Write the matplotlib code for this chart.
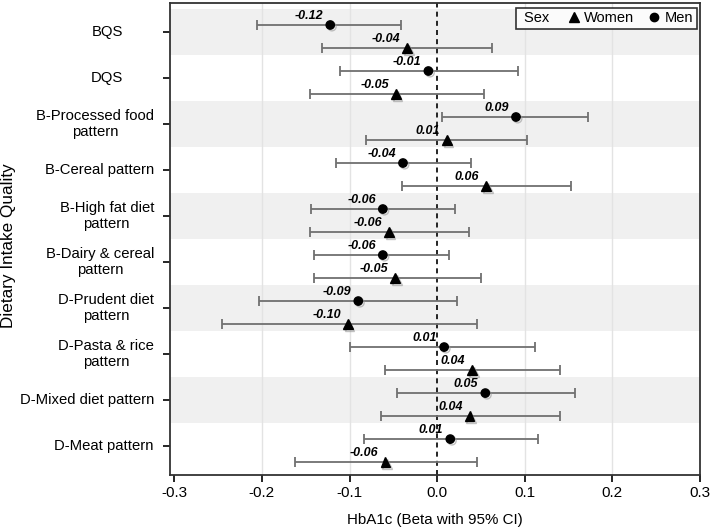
import numpy as np
import matplotlib.pyplot as plt
from matplotlib.lines import Line2D
import matplotlib.patheffects as pe
from matplotlib.transforms import blended_transform_factory

plt.rcParams['font.family'] = ['Liberation Sans', 'DejaVu Sans']

# categories (top to bottom)
categories = ['BQS', 'DQS', 'B-Processed food\npattern', 'B-Cereal pattern',
              'B-High fat diet\npattern', 'B-Dairy & cereal\npattern',
              'D-Prudent diet\npattern', 'D-Pasta & rice\npattern',
              'D-Mixed diet pattern', 'D-Meat pattern']

# men estimates and 95% CI
men_beta = [-0.122, -0.010, 0.090, -0.039, -0.062, -0.062, -0.090, 0.008, 0.055, 0.015]
men_lo = [-0.206, -0.111, 0.006, -0.115, -0.144, -0.141, -0.203, -0.100, -0.046, -0.084]
men_hi = [-0.041, 0.092, 0.172, 0.039, 0.020, 0.014, 0.023, 0.112, 0.157, 0.115]
men_lab = ['-0.12', '-0.01', '0.09', '-0.04', '-0.06', '-0.06', '-0.09', '0.01', '0.05', '0.01']

# women estimates and 95% CI
women_beta = [-0.034, -0.047, 0.011, 0.056, -0.055, -0.048, -0.102, 0.040, 0.037, -0.059]
women_lo = [-0.131, -0.145, -0.081, -0.040, -0.145, -0.141, -0.246, -0.060, -0.064, -0.162]
women_hi = [0.063, 0.053, 0.103, 0.153, 0.036, 0.050, 0.046, 0.140, 0.140, 0.046]
women_lab = ['-0.04', '-0.05', '0.01', '0.06', '-0.06', '-0.05', '-0.10', '0.04', '0.04', '-0.06']

xticks = [-0.3, -0.2, -0.1, 0.0, 0.1, 0.2, 0.3]

fig = plt.figure(figsize=(7.11, 5.31), dpi=100)
ax_left, ax_w = 0.239, 0.7455
ax = fig.add_axes([ax_left, 0.1055, ax_w, 0.889])

pos = np.arange(len(categories))
y_men = pos - 0.15
y_women = pos + 0.35

# alternating bands
for i in pos:
    if i % 2 == 0:
        ax.axhspan(i - 0.5, i + 0.5, color='#f0f0f0', zorder=0, lw=0)

for x in [-0.2, -0.1, 0.1, 0.2]:
    ax.axvline(x, color='#e3e3e3', lw=1, zorder=1)
ax.axvline(0, color='black', lw=1.2, ls=(0, (3, 2.5)), zorder=2)

shadow = [pe.SimpleLineShadow(offset=(1.2, -1.2), shadow_color='#999999', alpha=0.6), pe.Normal()]

def draw(beta, lo, hi, ys, marker, labels):
    beta = np.array(beta)
    err = [beta - np.array(lo), np.array(hi) - beta]
    ax.errorbar(beta, ys, xerr=err, fmt='none', ecolor='#707070', elinewidth=1.3,
                capsize=3.5, capthick=1.3, zorder=3)
    ax.plot(beta, ys, ls='none', marker=marker, color='black', ms=6 if marker == 'o' else 7,
            zorder=4, path_effects=shadow)
    for b, y, t in zip(beta, ys, labels):
        ax.annotate(t, (b, y), xytext=(-5, 4.3), textcoords='offset points',
                    ha='right', va='baseline', fontsize=9, fontweight='bold',
                    fontstyle='italic', color='black', zorder=5)

draw(men_beta, men_lo, men_hi, y_men, 'o', men_lab)
draw(women_beta, women_lo, women_hi, y_women, '^', women_lab)

ax.set_xlim(-0.305, 0.3)
ax.set_ylim(9.63, -0.63)
ax.set_xticks(xticks)
ax.set_xticklabels(['%.1f' % v for v in xticks], fontsize=11)
ax.set_yticks(pos)
ax.set_yticklabels([])
ax.tick_params(axis='y', length=5, width=1.2)
ax.tick_params(axis='x', length=5, width=1.2, pad=3)
for s in ax.spines.values():
    s.set_linewidth(1.3)
    s.set_color('#333333')

# category labels: centred, but pushed left when they would run into the ticks
ax_px = ax_w * 711
to_ax = lambda p: (p - ax_left * 711) / ax_px
trans = blended_transform_factory(ax.transAxes, ax.transData)
fig.canvas.draw()
renderer = fig.canvas.get_renderer()
for i, lab in enumerate(categories):
    t = ax.text(to_ax(107), pos[i], lab, transform=trans, ha='center', va='center',
                multialignment='center', fontsize=10.7, clip_on=False)
    w = t.get_window_extent(renderer).width
    if 107 + w / 2 > 154:
        t.set_ha('right')
        t.set_x(to_ax(154))

ax.set_xlabel('HbA1c (Beta with 95% CI)', fontsize=10.9, labelpad=9)
ax.set_ylabel('Dietary Intake Quality', fontsize=12.3, va='center')
ax.yaxis.set_label_coords(to_ax(9), 0.485)

handles = [Line2D([], [], ls='none'),
           Line2D([], [], ls='none', marker='^', color='black', ms=7),
           Line2D([], [], ls='none', marker='o', color='black', ms=6)]
leg = ax.legend(handles, ['Sex ', 'Women', 'Men'], ncol=3, loc='upper right',
                bbox_to_anchor=(0.994, 0.99), fontsize=10.5, frameon=True, fancybox=False,
                edgecolor='black', handlelength=0.8, handletextpad=0.3, columnspacing=1.0,
                borderpad=0.25, borderaxespad=0)
leg.get_frame().set_linewidth(1.2)
# no handle room in front of "Sex"
leg._legend_handle_box.get_children()[0].get_children()[0].get_children()[0].width = 0

fig.savefig('out.png', dpi=100)
